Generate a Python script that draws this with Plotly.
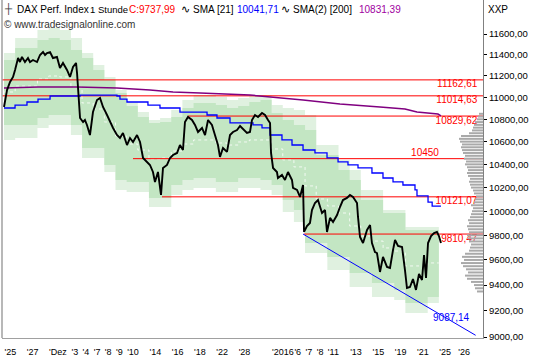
import math
import plotly.graph_objects as go

# ---------------- data ----------------
# time axis = trading-day index (0 = 25 Nov 2015), fractions = intraday position
price_t = [0.00, 0.09, 0.27, 0.54, 0.81, 0.99, 1.17, 1.26, 1.43, 1.61,
           1.88, 2.15, 2.33, 2.60, 2.96, 3.23, 3.50, 3.68, 3.86, 4.13,
           4.39, 4.75, 5.02, 5.29, 5.65, 5.92, 6.19, 6.46, 6.55, 6.64,
           6.73, 6.82, 7.09, 7.26, 7.44, 7.71, 7.98, 8.34, 8.61, 8.88,
           9.24, 9.51, 9.78, 10.13, 10.40, 10.67, 11.03, 11.30, 11.57, 11.93,
           12.20, 12.47, 12.83, 13.09, 13.36, 13.54, 13.81, 14.08, 14.26, 14.62,
           14.89, 15.16, 15.52, 15.78, 16.05, 16.23, 16.50, 16.86, 17.13, 17.40,
           17.76, 18.03, 18.30, 18.65, 18.92, 19.19, 19.37, 19.64, 20.00, 20.27,
           20.54, 20.90, 21.17, 21.43, 21.79, 22.06, 22.24, 22.51, 22.78, 23.14,
           23.41, 23.68, 23.86, 23.95, 24.04, 24.13, 24.48, 24.57, 24.93, 25.20,
           25.47, 25.83, 25.92, 26.28, 26.55, 26.82, 26.91, 27.17, 27.44, 27.62,
           27.89, 28.16, 28.52, 28.79, 28.97, 29.24, 29.51, 29.87, 30.13, 30.40,
           30.76, 31.03, 31.30, 31.66, 31.75, 31.93, 32.20, 32.56, 32.83, 33.00,
           33.27, 33.45, 33.72, 33.99, 34.35, 34.62, 34.89, 35.07, 35.34, 35.70,
           35.96, 36.14, 36.41, 36.68, 36.95, 37.22, 37.49, 37.67, 37.85, 38.03,
           38.30, 38.57, 38.83, 39.01, 39.19]
price_v = [10912, 10976, 11068, 11143, 11190, 11256, 11331, 11369, 11331, 11379,
           11331, 11369, 11331, 11350, 11331, 11398, 11426, 11398, 11417, 11426,
           11369, 11379, 11274, 11322, 11256, 11190, 11284, 11322, 11227, 11068,
           10930, 10812, 10776, 10794, 10749, 10659, 10866, 10976, 10995, 10912,
           10839, 10776, 10722, 10659, 10632, 10677, 10570, 10632, 10597, 10659,
           10597, 10456, 10421, 10395, 10334, 10248, 10334, 10137, 10369, 10395,
           10456, 10482, 10500, 10570, 10526, 10776, 10821, 10794, 10749, 10686,
           10722, 10659, 10794, 10749, 10659, 10570, 10465, 10544, 10509, 10659,
           10686, 10704, 10740, 10713, 10677, 10686, 10794, 10839, 10821, 10857,
           10839, 10794, 10767, 10500, 10421, 10369, 10334, 10282, 10308, 10265,
           10334, 10265, 10197, 10180, 10120, 10222, 9828, 9877, 9902, 10010,
           10069, 10094, 9985, 10010, 9828, 9944, 9910, 9968, 10035, 10094,
           10112, 10137, 10120, 10069, 9952, 9786, 9737, 9844, 9885, 9737,
           9664, 9656, 9504, 9624, 9544, 9536, 9680, 9762, 9713, 9705,
           9520, 9377, 9385, 9448, 9362, 9488, 9440, 9640, 9456, 9737,
           9794, 9819, 9828, 9794, 9738]

# daily channel bands (one value per trading day 0..38)
band_day = list(range(39))
band_outer_top = [11417, 11561, 11561, 11639, 11658, 11639, 11561, 11417, 11303, 11190,
                  11068, 10958, 10866, 10794, 10812, 10885, 10976, 11022, 11022, 11004,
                  10976, 10995, 11022, 11022, 10930, 10903, 10885, 10839, 10570, 10570,
                  10438, 10351, 10180, 10180, 10010, 10010, 9869, 9869, 9869]
band_inner_top = [11350, 11465, 11465, 11542, 11561, 11542, 11446, 11369, 11256, 11162,
                  11041, 10921, 10821, 10767, 10776, 10821, 10903, 10949, 10949, 10930,
                  10903, 10921, 10958, 10976, 10857, 10794, 10749, 10704, 10482, 10482,
                  10351, 10265, 10094, 10094, 9985, 9985, 9844, 9844, 9844]
band_inner_bot = [10749, 10749, 10749, 10812, 10839, 10839, 10749, 10544, 10544, 10395,
                  10265, 10248, 10248, 10112, 10112, 10222, 10265, 10282, 10282, 10248,
                  10248, 10282, 10282, 10265, 10222, 10094, 10010, 9737, 9737, 9624,
                  9624, 9496, 9496, 9417, 9417, 9362, 9261, 9261, 9307]
band_outer_bot = [10615, 10632, 10632, 10722, 10749, 10749, 10659, 10456, 10456, 10334,
                  10180, 10162, 10162, 10035, 10035, 10137, 10180, 10197, 10197, 10162,
                  10162, 10197, 10197, 10180, 10137, 9993, 9910, 9656, 9656, 9520,
                  9520, 9385, 9385, 9307, 9307, 9284, 9183, 9183, 9261]
band_mid = [11050, 11105, 11105, 11171, 11199, 11190, 11096, 10949, 10894, 10776,
            10650, 10579, 10526, 10448, 10456, 10517, 10579, 10615, 10615, 10588,
            10570, 10597, 10615, 10615, 10535, 10439, 10378, 10214, 10103, 10044,
            9985, 9877, 9794, 9753, 9697, 9672, 9552, 9552, 9576]
band_end_day = 39

# SMA [21] (blue, stepped)
sma21_t = [0.00, 0.99, 2.06, 3.05, 4.13, 6.82, 10.13, 10.40, 11.03, 12.91,
           13.99, 15.78, 18.21, 19.10, 20.27, 22.33, 23.14, 23.86, 24.93, 25.83,
           26.82, 27.89, 28.97, 29.96, 30.85, 31.75, 33.00, 33.99, 34.89, 35.78,
           36.86, 37.04, 38.03, 38.40, 39.19]
sma21_v = [10903, 10930, 10958, 10985, 11013, 11022, 11013, 10985, 10958, 10930,
           10903, 10866, 10839, 10812, 10767, 10749, 10722, 10659, 10615, 10570,
           10526, 10500, 10456, 10421, 10395, 10369, 10325, 10282, 10248, 10222,
           10180, 10129, 10077, 10042, 10042]

# SMA(2) [200] (purple)
sma200_t = [0.00, 3.05, 6.55, 10.13, 13.09, 15.16, 17.58, 20.27, 22.06, 26.82,
            30.13, 33.72, 35.96, 37.04, 38.92, 39.19]
sma200_v = [11087, 11096, 11096, 11087, 11068, 11050, 11041, 11031, 11022, 10976,
            10940, 10912, 10894, 10866, 10848, 10831]

# horizontal support / resistance levels
level_values = [11162.61, 11014.63, 10829.62, 10450, 10121.07, 9810.47]
level_start = [-0.18, -0.18, 16.50, 11.57, 14.17, 26.90]
level_labels = ["11162,61", "11014,63", "10829,62", "10450", "10121,07", "9810,47"]

# trend line
trend_t = [26.82, 42.30]
trend_v = [9810.47, 9013]
trend_label = "9087,14"
trend_label_pos = (40.10, 9137)

# volume profile (price bin -> relative length)
profile_price = [9350, 9375, 9400, 9425, 9450, 9475, 9500, 9525, 9550, 9575,
                 9600, 9625, 9650, 9675, 9700, 9725, 9750, 9775, 9800, 9825,
                 9850, 9875, 9900, 9925, 9950, 9975, 10000, 10025, 10050, 10075,
                 10100, 10125, 10150, 10175, 10200, 10225, 10250, 10275, 10300, 10325,
                 10350, 10375, 10400, 10425, 10450, 10475, 10500, 10525, 10550, 10575,
                 10600, 10625, 10650, 10675, 10700, 10725, 10750, 10775, 10800, 10825,
                 10850]
profile_len = [6, 8, 9, 12, 16, 18, 15, 17, 20, 22,
               19, 21, 18, 14, 13, 12, 14, 15, 16, 14,
               15, 16, 14, 15, 13, 12, 11, 10, 12, 9,
               8, 7, 9, 10, 12, 13, 14, 13, 15, 16,
               15, 16, 18, 17, 19, 18, 20, 21, 22, 21,
               23, 24, 22, 14, 11, 10, 9, 8, 6, 5,
               4]

# axes
y_tick_values = [9000, 9200, 9400, 9600, 9800, 10000, 10200, 10400, 10600,
                 10800, 11000, 11200, 11400, 11600]
y_tick_labels = ["9000,00", "9200,00", "9400,00", "9600,00", "9800,00", "10000,00",
                 "10200,00", "10400,00", "10600,00", "10800,00", "11000,00",
                 "11200,00", "11400,00", "11600,00"]
x_tick_days = [0, 2, 4, 6, 7, 8, 9, 10, 11, 13, 15, 17, 19, 21, 24, 26, 27, 28,
               29, 31, 33, 35, 37, 39, 40.7]
x_tick_labels = ["25", "27", "Dez", "3", "4", "7", "8", "9", "10", "14", "16",
                 "18", "22", "28", "2016", "6", "7", "8", "11", "13", "15", "19",
                 "21", "25", "26"]

# ---------------- layout geometry ----------------
W, H = 540, 360
ML, MR, MT, MB = 2, 57, 0, 22
PW = W - ML - MR
PH = H - MT - MB
X_RANGE = [-0.18, 42.96]
Y_RANGE = [3.953882, 4.076825]  # log10

FONT = "Liberation Sans, Arial, sans-serif"
C_OUT = "#e0f1e0"
C_IN = "#c3e6c3"
RED = "#ff0000"
BLUE = "#0000ff"
PURPLE = "#800080"

fig = go.Figure()

bx = band_day + [band_end_day]


def ext(a):
    return a + [a[-1]]


fig.add_trace(go.Scatter(x=bx, y=ext(band_outer_bot), mode="lines", line=dict(width=0, shape="hv"),
                         hoverinfo="skip", showlegend=False))
fig.add_trace(go.Scatter(x=bx, y=ext(band_outer_top), mode="lines", line=dict(width=0, shape="hv"),
                         fill="tonexty", fillcolor=C_OUT, hoverinfo="skip", showlegend=False))
fig.add_trace(go.Scatter(x=bx, y=ext(band_inner_bot), mode="lines", line=dict(width=0, shape="hv"),
                         hoverinfo="skip", showlegend=False))
fig.add_trace(go.Scatter(x=bx, y=ext(band_inner_top), mode="lines", line=dict(width=0, shape="hv"),
                         fill="tonexty", fillcolor=C_IN, hoverinfo="skip", showlegend=False))
fig.add_trace(go.Scatter(x=bx, y=ext(band_mid), mode="lines",
                         line=dict(width=1, shape="hv", color="rgba(255,255,255,0.8)", dash="dot"),
                         hoverinfo="skip", showlegend=False))

# volume profile on a mirrored x axis (0 at the right edge)
px_, py_ = [], []
for p, l in zip(profile_price, profile_len):
    px_ += [0, l, None]
    py_ += [p, p, None]
fig.add_trace(go.Scatter(x=px_, y=py_, xaxis="x2", mode="lines",
                         line=dict(width=2, color="#a9a9a9"), hoverinfo="skip", showlegend=False))

# levels
for v, s in zip(level_values, level_start):
    fig.add_trace(go.Scatter(x=[s, X_RANGE[1]], y=[v, v], mode="lines",
                             line=dict(width=1, color=RED), hoverinfo="skip", showlegend=False))

fig.add_trace(go.Scatter(x=sma200_t, y=sma200_v, mode="lines", line=dict(width=1.5, color=PURPLE),
                         showlegend=False))
fig.add_trace(go.Scatter(x=sma21_t, y=sma21_v, mode="lines", line=dict(width=1.3, color=BLUE, shape="hv"),
                         showlegend=False))
fig.add_trace(go.Scatter(x=trend_t, y=trend_v, mode="lines", line=dict(width=1, color=BLUE),
                         showlegend=False))
fig.add_trace(go.Scatter(x=price_t, y=price_v, mode="lines", line=dict(width=1.9, color="black"),
                         showlegend=False))

# level labels
lab_x = 42.45
for v, t in zip(level_values, level_labels):
    if t == "10450":
        fig.add_trace(go.Scatter(x=[37.76], y=[v], mode="text", text=[t], textposition="top center",
                                 textfont=dict(family=FONT, size=10, color=RED), showlegend=False))
    else:
        fig.add_trace(go.Scatter(x=[lab_x], y=[v], mode="text", text=[t], textposition="bottom left",
                                 textfont=dict(family=FONT, size=10, color=RED), showlegend=False))
fig.add_trace(go.Scatter(x=[trend_label_pos[0]], y=[trend_label_pos[1]], mode="text", text=[trend_label],
                         textposition="middle center",
                         textfont=dict(family=FONT, size=10, color=BLUE), showlegend=False))


def ann(px, py, text, color="black", size=10, anchor="left"):
    fig.add_annotation(x=(px - ML) / PW, y=1 - (py - MT) / PH, xref="paper", yref="paper",
                       text=text, showarrow=False, xanchor=anchor, yanchor="middle",
                       font=dict(family=FONT, size=size, color=color), borderpad=0)


ann(3, 9, "┼", "#333333", 10)
ann(16, 9, "DAX Perf. Index")
ann(89, 9, "1 Stunde", "black", 9.5)
ann(128, 9, "C:9737,99", RED)
ann(180, 9, "∿", "black", 11)
ann(192, 9, "SMA [21]")
ann(236, 9, "10041,71", BLUE)
ann(280, 9, "∿", "black", 11)
ann(292, 9, "SMA(2) [200]")
ann(358, 9, "10831,39", "#a000a0")
ann(487, 9, "XXP", "black", 10)
ann(3, 24, "© www.tradesignalonline.com", "#333333", 10)

fig.add_shape(type="line", xref="paper", yref="paper", x0=0, x1=0, y0=0, y1=1,
              line=dict(color="#a0a0a0", width=1.5))

fig.update_layout(
    width=W, height=H,
    margin=dict(l=ML, r=MR, t=MT, b=MB, autoexpand=False),
    paper_bgcolor="white", plot_bgcolor="white",
    showlegend=False,
    font=dict(family=FONT, size=10, color="black"),
    xaxis=dict(range=X_RANGE, showgrid=False, zeroline=False, showline=True, automargin=False,
               linecolor="#a0a0a0", linewidth=1, tickmode="array", tickangle=0,
               tickvals=x_tick_days, ticktext=["'" + t for t in x_tick_labels],
               ticks="", ticklabelposition="outside right", ticklabelstandoff=5,
               tickfont=dict(family=FONT, size=9, color="black")),
    xaxis2=dict(range=[PW, 0], overlaying="x", visible=False),
    yaxis=dict(type="log", range=Y_RANGE, side="right", showgrid=False, zeroline=False,
               showline=True, linecolor="#808080", linewidth=1, ticks="outside", ticklen=3,
               automargin=False,
               tickcolor="black", tickmode="array", tickvals=y_tick_values,
               ticktext=y_tick_labels, tickfont=dict(family=FONT, size=9.5, color="black")),
)

fig.write_html("out.html", config={"displayModeBar": False},
               post_script="document.body.style.margin='0';")
